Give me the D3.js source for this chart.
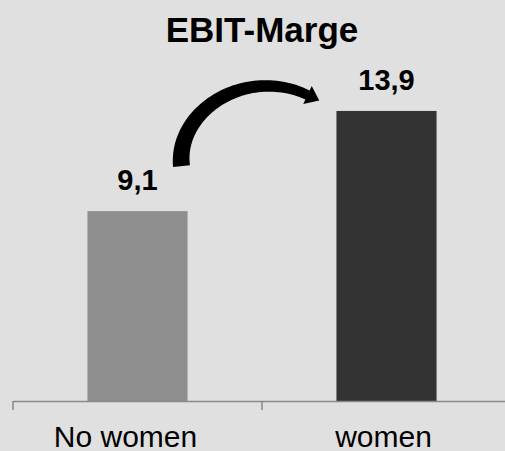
<!DOCTYPE html>
<html>
<head>
<meta charset="utf-8">
<script src="https://cdn.jsdelivr.net/npm/d3@7"></script>
<style>
  html, body { margin: 0; padding: 0; background: #e0e0e0; }
  svg { display: block; }
  text { font-family: "Liberation Sans", Arial, sans-serif; }
</style>
</head>
<body>
<svg id="chart" width="505" height="451"></svg>
<script>
// EBIT margin by board composition
const categories = ["No women", "women"];
const values = [9.1, 13.9];
const valueLabels = ["9,1", "13,9"];
const barColors = ["#8f8f8f", "#333333"];
const title = "EBIT-Marge";

const W = 505, H = 451;
const svg = d3.select("#chart");

svg.append("rect").attr("width", W).attr("height", H).attr("fill", "#e0e0e0");

const x = d3.scaleBand()
  .domain(categories)
  .range([13, 511])
  .paddingInner(0.598)
  .paddingOuter(0.299);

const y = d3.scaleLinear().domain([0, 15]).range([401, 88]);

// title
svg.append("text")
  .attr("x", 262).attr("y", 42)
  .attr("text-anchor", "middle")
  .attr("font-size", 35).attr("font-weight", "bold")
  .attr("fill", "#000")
  .text(title);

// bars
svg.selectAll("rect.bar")
  .data(categories)
  .join("rect")
  .attr("class", "bar")
  .attr("x", d => x(d))
  .attr("width", x.bandwidth())
  .attr("y", (d, i) => y(values[i]))
  .attr("height", (d, i) => y(0) - y(values[i]))
  .attr("fill", (d, i) => barColors[i]);

// value labels
svg.selectAll("text.val")
  .data(categories)
  .join("text")
  .attr("class", "val")
  .attr("x", d => x(d) + x.bandwidth() / 2)
  .attr("y", (d, i) => y(values[i]) - 21)
  .attr("text-anchor", "middle")
  .attr("font-size", 29).attr("font-weight", "bold")
  .attr("fill", "#000")
  .text((d, i) => valueLabels[i]);

// category axis: baseline with ticks at band boundaries
const axisG = svg.append("g").attr("transform", `translate(0,${y(0)})`);
const axis = d3.axisBottom(x).tickSize(0).tickPadding(25);
axisG.call(axis);
axisG.select(".domain").remove();
axisG.selectAll(".tick text")
  .attr("font-size", 30)
  .attr("fill", "#000")
  .attr("font-family", "\"Liberation Sans\", Arial, sans-serif")
  .attr("dx", (d, i) => (i === 0 ? -12 : -3));

const step = x.step();
const bounds = categories.map(d => x(d) - x.paddingInner() * step / 2);
axisG.append("line")
  .attr("x1", bounds[0]).attr("x2", W)
  .attr("y1", 0.5).attr("y2", 0.5)
  .attr("stroke", "#898989").attr("stroke-width", 1.5);
axisG.selectAll("line.tk")
  .data(bounds)
  .join("line")
  .attr("class", "tk")
  .attr("x1", d => d).attr("x2", d => d)
  .attr("y1", 0).attr("y2", 9)
  .attr("stroke", "#898989").attr("stroke-width", 1.5);

// curved arrow from the first label toward the second bar
const c0 = x(categories[0]) + x.bandwidth() / 2;
const c1 = x(categories[1]) + x.bandwidth() / 2;
const yTop0 = y(values[0]);
const yTop1 = y(values[1]);

const P0 = [c0 + 44, yTop0 - 45];
const P1 = [c0 + 38, yTop0 - 100];
const P2 = [c0 + 108, yTop1 - 45];
const P3 = [c1 - 79, yTop1 - 16];

function bez(t) {
  const u = 1 - t;
  return [
    u*u*u*P0[0] + 3*u*u*t*P1[0] + 3*u*t*t*P2[0] + t*t*t*P3[0],
    u*u*u*P0[1] + 3*u*u*t*P1[1] + 3*u*t*t*P2[1] + t*t*t*P3[1]
  ];
}
function bezD(t) {
  const u = 1 - t;
  return [
    3*u*u*(P1[0]-P0[0]) + 6*u*t*(P2[0]-P1[0]) + 3*t*t*(P3[0]-P2[0]),
    3*u*u*(P1[1]-P0[1]) + 6*u*t*(P2[1]-P1[1]) + 3*t*t*(P3[1]-P2[1])
  ];
}
const N = 60;
const left = [], right = [];
for (let i = 0; i <= N; i++) {
  const t = i / N;
  const p = bez(t), d = bezD(t);
  const len = Math.hypot(d[0], d[1]);
  const nx = -d[1] / len, ny = d[0] / len;
  const hw = (17 - 7 * t) / 2;
  left.push([p[0] + nx * hw, p[1] + ny * hw]);
  right.push([p[0] - nx * hw, p[1] - ny * hw]);
}
const endD = bezD(1), endL = Math.hypot(endD[0], endD[1]);
const tx = endD[0] / endL, ty = endD[1] / endL;
const nx = -ty, ny = tx;
const headHW = 10, headLen = 13;
const base = P3;
const tip = [base[0] + tx * headLen, base[1] + ty * headLen];
const hl = [base[0] + nx * headHW, base[1] + ny * headHW];
const hr = [base[0] - nx * headHW, base[1] - ny * headHW];

const pts = left.concat([hl, tip, hr]).concat(right.slice().reverse());
svg.append("path")
  .attr("d", "M" + pts.map(p => p[0].toFixed(2) + "," + p[1].toFixed(2)).join("L") + "Z")
  .attr("fill", "#000");
</script>
</body>
</html>
